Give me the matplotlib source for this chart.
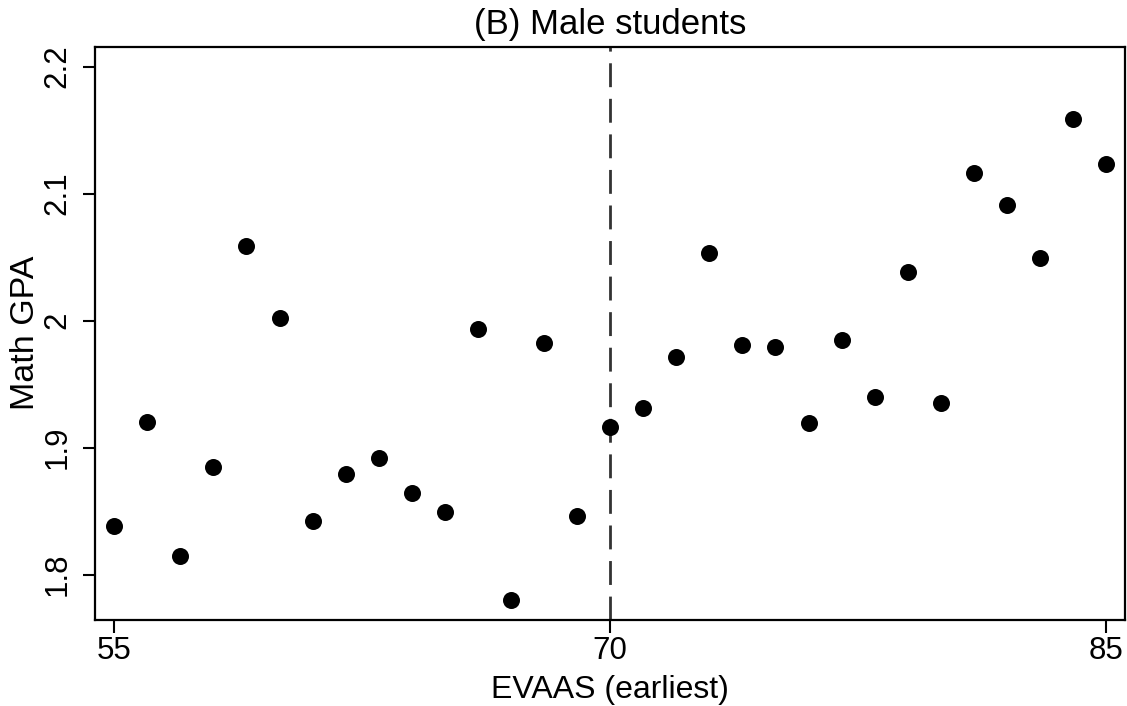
import matplotlib
matplotlib.use("Agg")
import matplotlib.pyplot as plt

plt.rcParams['font.family'] = ['Liberation Sans', 'DejaVu Sans']

# binned means: EVAAS score vs math GPA
evaas = list(range(55, 86))
math_gpa = [1.838, 1.920, 1.815, 1.885, 2.059, 2.002, 1.842, 1.879, 1.892, 1.864,
            1.849, 1.993, 1.780, 1.982, 1.846, 1.916, 1.931, 1.971, 2.053, 1.981,
            1.979, 1.919, 1.985, 1.940, 2.038, 1.935, 2.116, 2.091, 2.049, 2.159,
            2.123]
cutoff = 70
xticks = [55, 70, 85]
yticks = [1.8, 1.9, 2.0, 2.1, 2.2]
yticklabels = ['1.8', '1.9', '2', '2.1', '2.2']

fig = plt.figure(figsize=(11.27, 7.06), dpi=100)
ax = fig.add_axes([0.0843, 0.1221, 0.9136, 0.8118])

ax.scatter(evaas, math_gpa, s=150, color='black', zorder=3, linewidths=0)
ax.axvline(cutoff, color='#333333', linewidth=2.0, dashes=(8.6, 4.2), zorder=2)

ax.set_xlim(54.42, 85.56)
ax.set_ylim(1.7644, 2.2157)
ax.set_xticks(xticks)
ax.set_yticks(yticks)
ax.set_yticklabels(yticklabels, rotation=90, va='center')

ax.tick_params(axis='both', direction='out', length=9, width=1.5, labelsize=22.5)
ax.tick_params(axis='x', pad=3)
ax.tick_params(axis='y', pad=7)
for sp in ax.spines.values():
    sp.set_linewidth(1.6)

ax.set_xlabel('EVAAS (earliest)', fontsize=23, labelpad=6)
ax.set_ylabel('Math GPA', fontsize=24.5, labelpad=1)
ax.set_title('(B) Male students', fontsize=25, pad=9)

fig.savefig('out.png', dpi=100)
